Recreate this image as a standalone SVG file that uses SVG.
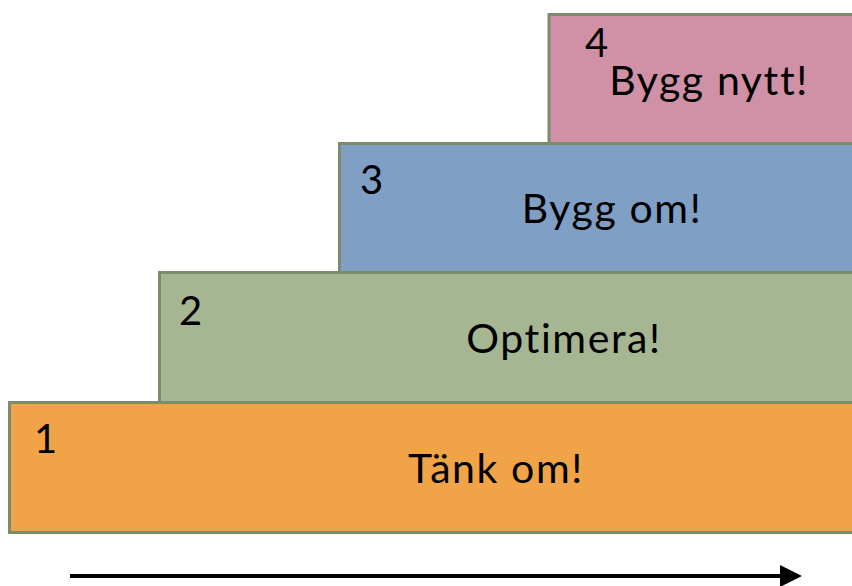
<svg xmlns="http://www.w3.org/2000/svg" width="852" height="586" viewBox="0 0 852 586">
<defs>
<style>
.box{stroke:#7d8b6b;stroke-width:3}
.lbl{font-family:Lato,"Open Sans","Liberation Sans",sans-serif;font-size:41px;fill:#000;letter-spacing:1.6px;font-variant-ligatures:none}
.num{font-family:Lato,"Open Sans","Liberation Sans",sans-serif;font-size:40px;fill:#000}
</style>
<marker id="ah" viewBox="0 0 10 10" refX="0" refY="5" markerWidth="6" markerHeight="5.5" markerUnits="strokeWidth" orient="auto">
<path d="M0,0 L10,5 L0,10 Z" fill="#000"/>
</marker>
</defs>
<rect width="852" height="586" fill="#fff"/>
<g id="step4">
<rect class="box" x="549" y="14.5" width="320" height="129" fill="#d091a6"/>
<text class="num" x="585" y="57">4</text>
<text class="lbl" x="709" y="95" text-anchor="middle">Bygg nytt!</text>
</g>
<g id="step3">
<rect class="box" x="339.5" y="143.5" width="530" height="129" fill="#7f9fc5"/>
<text class="num" x="360" y="194">3</text>
<text class="lbl" x="612" y="223" text-anchor="middle">Bygg om!</text>
</g>
<g id="step2">
<rect class="box" x="159.5" y="272.5" width="710" height="130" fill="#a6b592"/>
<text class="num" x="179" y="325">2</text>
<text class="lbl" x="564" y="353" text-anchor="middle">Optimera!</text>
</g>
<g id="step1">
<rect class="box" x="9.5" y="402.5" width="860" height="130" fill="#f0a447"/>
<text class="num" x="34" y="453">1</text>
<text class="lbl" x="496" y="483" text-anchor="middle">Tänk om!</text>
</g>
<g id="connectors">
<line x1="70" y1="576" x2="780" y2="576" stroke="#000" stroke-width="4" marker-end="url(#ah)"/>
</g>
</svg>
